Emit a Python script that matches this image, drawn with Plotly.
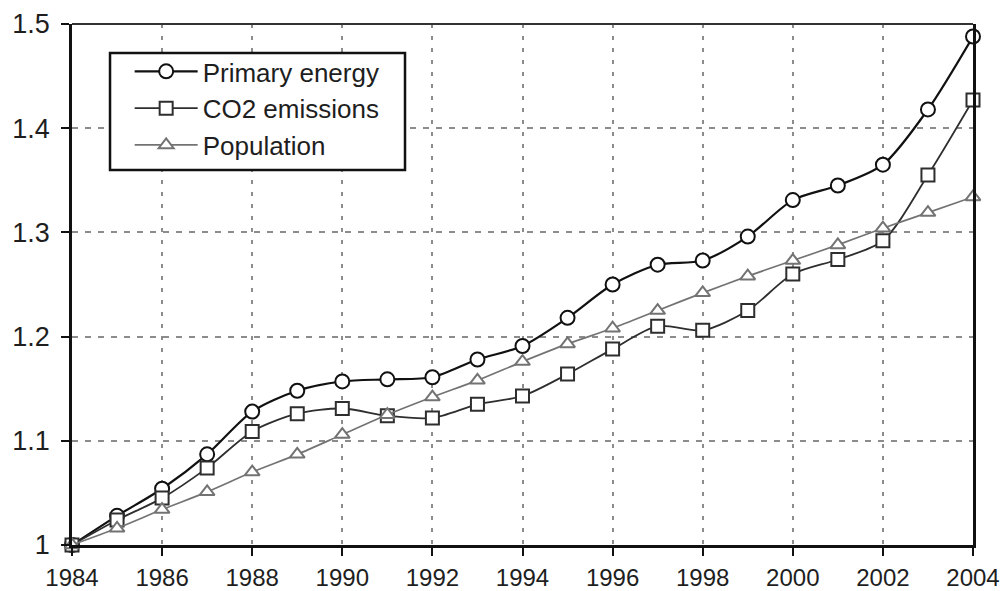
import plotly.graph_objects as go

years = list(range(1984, 2005))
primary_energy = [1.000, 1.028, 1.054, 1.087, 1.128, 1.148, 1.157, 1.159, 1.161, 1.178,
                  1.191, 1.218, 1.250, 1.269, 1.273, 1.296, 1.331, 1.345, 1.365, 1.418, 1.488]
co2_emissions = [1.000, 1.024, 1.045, 1.074, 1.109, 1.126, 1.131, 1.124, 1.122, 1.135,
                 1.143, 1.164, 1.188, 1.210, 1.206, 1.225, 1.260, 1.274, 1.292, 1.355, 1.427]
population = [1.000, 1.016, 1.034, 1.051, 1.070, 1.087, 1.106, 1.125, 1.142, 1.158,
              1.176, 1.193, 1.208, 1.225, 1.242, 1.258, 1.273, 1.288, 1.304, 1.319, 1.334]

series = [
    ("Primary energy", primary_energy, "circle", "#111111", 2.2, 14),
    ("CO2 emissions", co2_emissions, "square", "#2e2e2e", 1.8, 13),
    ("Population", population, "triangle-up", "#737373", 1.7, 13),
]

fig = go.Figure()
for i, (name, vals, sym, col, lw, ms) in enumerate(series):
    fig.add_trace(go.Scatter(
        x=years, y=vals, name=name, mode="lines+markers",
        line=dict(color=col, width=lw, shape="spline", smoothing=0.8),
        marker=dict(symbol=sym, size=ms, color="white", line=dict(color=col, width=2)),
        cliponaxis=False, legendgroup=f"g{i}",
    ))

font_family = "Liberation Sans, Arial, sans-serif"
fig.update_layout(
    width=1007, height=591,
    margin=dict(l=72, r=34, t=24, b=46),
    paper_bgcolor="white", plot_bgcolor="white",
    font=dict(family=font_family, color="#1e1e1e"),
    showlegend=True,
    legend=dict(
        x=0.064, y=0.954, xanchor="left", yanchor="top",
        bgcolor="rgba(0,0,0,0)", borderwidth=0,
        font=dict(size=26, family=font_family, color="#1e1e1e"),
        tracegroupgap=0, traceorder="grouped", itemwidth=63,
    ),
    xaxis=dict(
        range=[1984, 2004], tickmode="array", tickvals=list(range(1984, 2005, 2)),
        showline=True, linecolor="#111111", linewidth=2.5, automargin=False,
        ticks="outside", ticklen=8, tickwidth=2, tickcolor="#111111",
        tickfont=dict(size=24, family=font_family, color="#1e1e1e"),
        ticklabelstandoff=1,
        showgrid=True, gridcolor="#8c8c8c", gridwidth=1.6, griddash="4px,8px",
        zeroline=False,
    ),
    yaxis=dict(
        range=[1, 1.5], tickmode="array", tickvals=[1, 1.1, 1.2, 1.3, 1.4, 1.5],
        ticktext=["1", "1.1", "1.2", "1.3", "1.4", "1.5"],
        showline=True, linecolor="#111111", linewidth=2.5, mirror=True, automargin=False,
        ticks="outside", ticklen=8, tickwidth=2, tickcolor="#111111",
        tickfont=dict(size=27, family=font_family, color="#1e1e1e"),
        ticklabelstandoff=6,
        showgrid=True, gridcolor="#8c8c8c", gridwidth=1.6, griddash="6px,7px",
        zeroline=False,
    ),
    shapes=[
        dict(type="line", xref="paper", yref="paper", x0=0, x1=1, y0=1, y1=1,
             line=dict(color="#333333", width=1.8), layer="above"),
        dict(type="rect", xref="paper", yref="paper", x0=0.0422, x1=0.3696,
             y0=0.7198, y1=0.9443, fillcolor="white",
             line=dict(color="#111111", width=2.5), layer="above"),
    ],
)

fig.write_html("out.html", config={"displayModeBar": False},
               post_script="document.body.style.margin='0';")
